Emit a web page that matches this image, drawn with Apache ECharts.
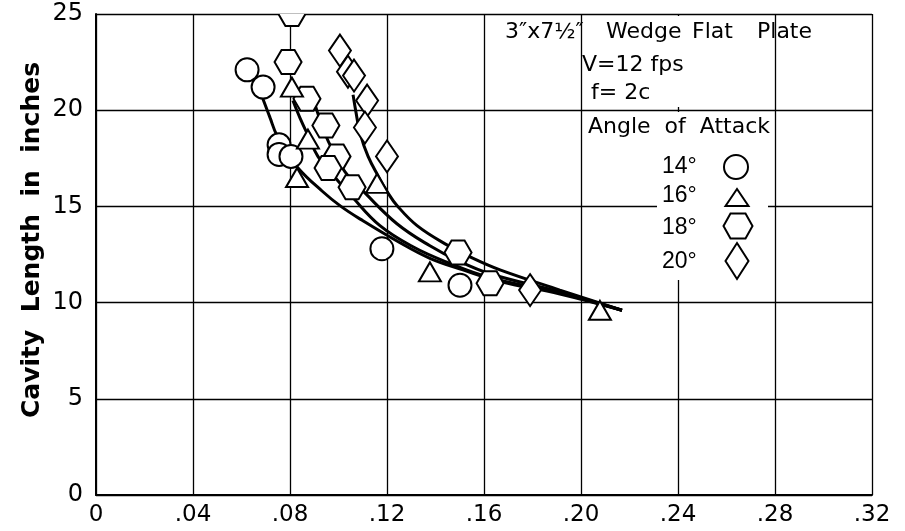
<!DOCTYPE html>
<html>
<head>
<meta charset="utf-8">
<script src="https://cdn.jsdelivr.net/npm/echarts@6/dist/echarts.min.js"></script>
<style>html,body{margin:0;padding:0;background:#fff}#c{width:905px;height:531px}</style>
</head>
<body>
<div id="c"></div>
<script>
// ---- data ----
const xTickLabels = ['0', '.04', '.08', '.12', '.16', '.20', '.24', '.28', '.32'];
const yTickLabels = ['0', '5', '10', '15', '20', '25'];
const seriesNames = ['14°', '16°', '18°', '20°'];

// measured points (x = cavitation parameter, y = cavity length in inches)
const pts14 = [[0.0623, 22.1], [0.0689, 21.2], [0.0755, 18.2], [0.0755, 17.7], [0.0804, 17.6], [0.1179, 12.8], [0.1501, 10.9]];
const pts16 = [[0.0808, 21.2], [0.0874, 18.5], [0.0829, 16.5], [0.1159, 16.2], [0.1377, 11.6], [0.2078, 9.6]];
const pts18 = [[0.0808, 25.0], [0.0792, 22.5], [0.0870, 20.6], [0.0948, 19.2], [0.0994, 17.6], [0.0957, 17.0], [0.1056, 16.0], [0.1493, 12.6], [0.1625, 11.0]];
const pts20 = [[0.1006, 23.1], [0.1039, 22.0], [0.1064, 21.8], [0.1118, 20.5], [0.1109, 19.1], [0.1200, 17.6], [0.1790, 10.65]];

// faired curves
const curve14 = [[0.0685, 20.7], [0.0718, 19.6], [0.0746, 18.7], [0.0800, 17.7], [0.0833, 17.0], [0.0932, 15.8], [0.1010, 15.0], [0.1101, 14.25], [0.1241, 13.2], [0.1377, 12.3], [0.1513, 11.7], [0.1666, 11.1], [0.1913, 10.45], [0.2169, 9.6]];
const curve16 = [[0.0812, 20.5], [0.0841, 19.6], [0.0874, 18.7], [0.0915, 17.6], [0.0986, 16.5], [0.1056, 15.5], [0.1171, 14.0], [0.1307, 12.9], [0.1447, 12.1], [0.1625, 11.3], [0.1913, 10.5], [0.2169, 9.6]];
const curve18 = [[0.0903, 20.3], [0.0932, 19.2], [0.0965, 18.2], [0.1027, 16.8], [0.1109, 15.7], [0.1241, 14.1], [0.1377, 12.95], [0.1489, 12.2], [0.1625, 11.5], [0.1913, 10.55], [0.2169, 9.6]];
const curve20 = [[0.1060, 20.8], [0.1072, 19.9], [0.1089, 18.8], [0.1122, 17.6], [0.1163, 16.6], [0.1204, 15.7], [0.1241, 15.05], [0.1324, 14.0], [0.1447, 13.0], [0.1555, 12.3], [0.1666, 11.7], [0.1913, 10.65], [0.2169, 9.6]];

const markerStyle = { color: '#fff', borderColor: '#000', borderWidth: 2, opacity: 1 };
const curveStyle = { color: '#000', width: 3, opacity: 1 };

function curveSeries(name, data) {
  return { name: name + ' curve', type: 'line', data: data, smooth: 0.4, showSymbol: false, symbol: 'none',
    lineStyle: curveStyle, itemStyle: { color: '#000' }, z: 2, silent: true, animation: false };
}
function scatterSeries(name, data, symbol, size) {
  return { name: name, type: 'scatter', data: data, symbol: symbol, symbolSize: size,
    itemStyle: markerStyle, emphasis: { disabled: true }, z: 3, clip: false, animation: false };
}
// hexagon markers drawn as a clipped custom series (the top one is cut by the frame)
function hexSeries(name, data) {
  return { name: name, type: 'custom', data: data, clip: true, z: 3, animation: false, silent: true,
    encode: { x: 0, y: 1 },
    renderItem: function (params, api) {
      const p = api.coord([api.value(0), api.value(1)]);
      const hw = 13.5, iw = 6.5, hh = 12;
      return { type: 'polygon',
        shape: { points: [[p[0] - hw, p[1]], [p[0] - iw, p[1] - hh], [p[0] + iw, p[1] - hh], [p[0] + hw, p[1]], [p[0] + iw, p[1] + hh], [p[0] - iw, p[1] + hh]] },
        style: { fill: '#fff', stroke: '#000', lineWidth: 2 } };
    } };
}

const chart = echarts.init(document.getElementById('c'), null, { renderer: 'canvas' });
const white = { fill: '#fff' };
const txt = (t, x, y, size, fam) => ({ type: 'text', z: 10, style: { text: t, x: x, y: y, fill: '#000',
  font: size + 'px ' + (fam || '"DejaVu Sans"'), align: 'left', verticalAlign: 'middle' } });
const outline = { fill: '#fff', stroke: '#000', lineWidth: 2 };

chart.setOption({
  animation: false,
  backgroundColor: '#fff',
  grid: { left: 96, right: 33, top: 14, bottom: 36 },
  xAxis: {
    type: 'value', min: 0, max: 0.32, interval: 0.04,
    axisLine: { show: true, onZero: false, lineStyle: { color: '#000', width: 2 } },
    axisTick: { show: false },
    splitLine: { show: true, lineStyle: { color: '#000', width: 1.3 } },
    axisLabel: { color: '#000', fontSize: 23, fontFamily: 'DejaVu Sans', margin: 9,
      formatter: (v, i) => xTickLabels[i] }
  },
  yAxis: {
    type: 'value', min: 0, max: 25, interval: 5,
    axisLine: { show: true, onZero: false, lineStyle: { color: '#000', width: 2 } },
    axisTick: { show: false },
    splitLine: { show: true, lineStyle: { color: '#000', width: 1.3 } },
    axisLabel: { color: '#000', fontSize: 24, fontFamily: 'DejaVu Sans', margin: 13,
      formatter: (v, i) => yTickLabels[i] }
  },
  graphic: [
    // blank areas behind the lettering (grid lines interrupted in the drawing)
    { type: 'rect', z: 1, shape: { x: 657, y: 140, width: 111, height: 140 }, style: white },
    { type: 'rect', z: 1, shape: { x: 671, y: 16, width: 10, height: 91 }, style: white },
    { type: 'rect', z: 1, shape: { x: 671, y: 112, width: 10, height: 30 }, style: white },
    // y axis title
    { type: 'text', z: 10, x: 32, y: 240, rotation: Math.PI / 2,
      style: { text: 'Cavity  Length  in  inches', fill: '#000', font: 'bold 25px "DejaVu Sans"', align: 'center', verticalAlign: 'middle' } },
    txt('3″x7½″', 505, 32, 22),
    txt('Wedge', 606, 32, 22),
    txt('Flat', 692, 32, 22),
    txt('Plate', 757, 32, 22),
    txt('V=12 fps', 582, 65, 22),
    txt('f= 2c', 591, 93, 22),
    txt('Angle  of  Attack', 588, 127, 22),
    txt(seriesNames[0], 662, 167, 23, '"Liberation Sans"'),
    txt(seriesNames[1], 662, 196, 23, '"Liberation Sans"'),
    txt(seriesNames[2], 662, 228, 23, '"Liberation Sans"'),
    txt(seriesNames[3], 662, 262, 23, '"Liberation Sans"'),
    { type: 'circle', z: 10, shape: { cx: 736, cy: 167, r: 12 }, style: outline },
    { type: 'polygon', z: 10, shape: { points: [[725.5, 206], [737, 189], [748.5, 206]] }, style: outline },
    { type: 'polygon', z: 10, shape: { points: [[723.5, 226], [730.5, 213.5], [745.5, 213.5], [752.5, 226], [745.5, 238.5], [730.5, 238.5]] }, style: outline },
    { type: 'polygon', z: 10, shape: { points: [[737, 243], [748.5, 261], [737, 279], [725.5, 261]] }, style: outline }
  ],
  series: [
    curveSeries(seriesNames[0], curve14),
    curveSeries(seriesNames[1], curve16),
    curveSeries(seriesNames[2], curve18),
    curveSeries(seriesNames[3], curve20),
    scatterSeries(seriesNames[0], pts14, 'circle', 23),
    scatterSeries(seriesNames[1], pts16, 'triangle', [22, 19]),
    hexSeries(seriesNames[2], pts18),
    scatterSeries(seriesNames[3], pts20, 'diamond', [22, 32])
  ]
});
</script>
</body>
</html>
